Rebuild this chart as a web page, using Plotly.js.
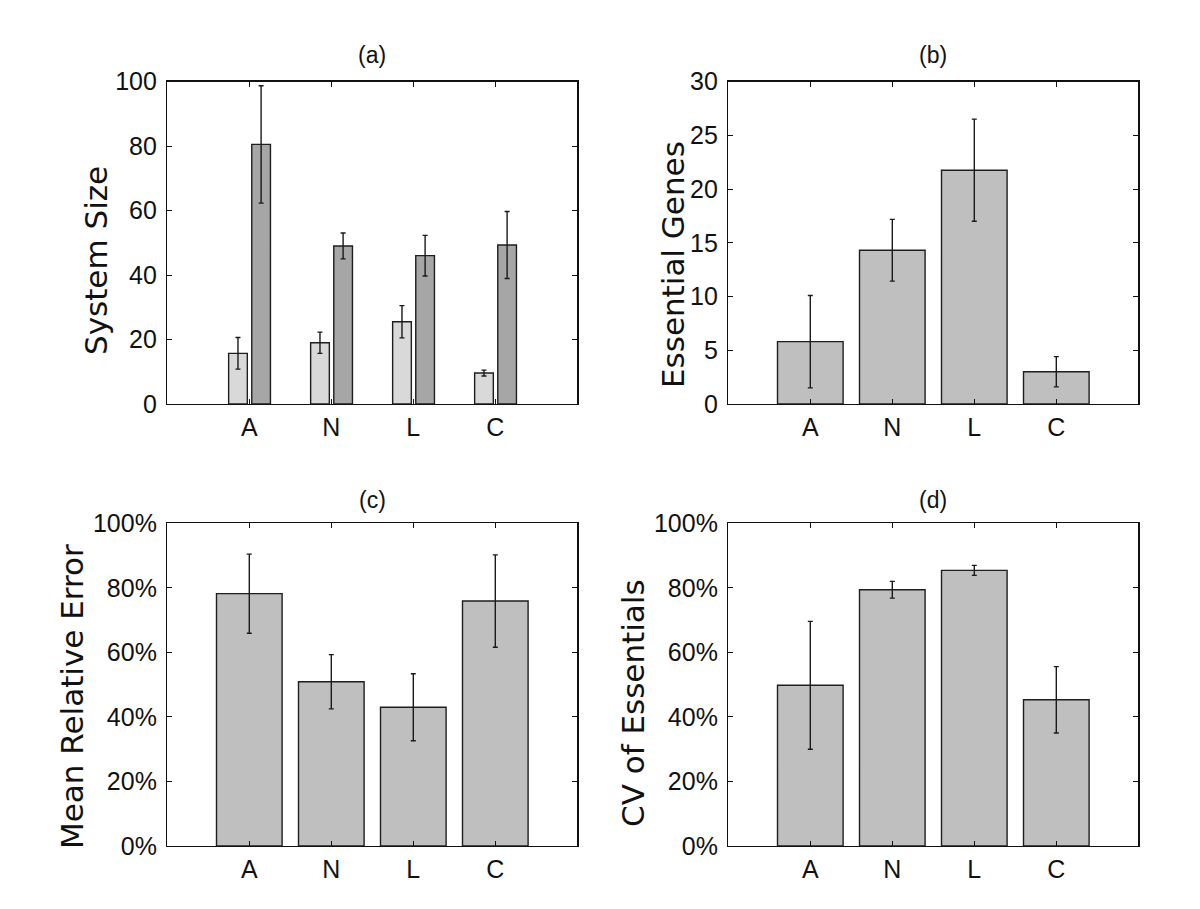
<!DOCTYPE html>
<html>
<head>
<meta charset="utf-8">
<script src="https://cdn.plot.ly/plotly-3.0.1.min.js"></script>
<style>html,body{margin:0;padding:0;background:#fff;}#chart{width:1200px;height:909px;}</style>
</head>
<body>
<div id="chart"></div>
<script>
// ---- data ----
const categories = ['A', 'N', 'L', 'C'];

// (a) System Size: two series
const sizeLight = [15.7, 19.0, 25.5, 9.6];
const sizeLightErr = [4.9, 3.3, 5.0, 0.9];
const sizeDark = [80.5, 49.0, 46.0, 49.3];
const sizeDarkErr = [18.2, 4.0, 6.3, 10.4];

// (b) Essential Genes
const essential = [5.8, 14.3, 21.75, 3.0];
const essentialErr = [4.3, 2.87, 4.75, 1.41];

// (c) Mean Relative Error (%)
const relError = [78.2, 50.9, 43.0, 75.9];
const relErrorErr = [12.25, 8.4, 10.4, 14.3];

// (d) CV of Essentials (%)
const cvEss = [49.8, 79.4, 85.4, 45.3];
const cvEssErr = [19.8, 2.6, 1.55, 10.3];

const panelTitles = ['(a)', '(b)', '(c)', '(d)'];
const yTitles = ['System Size', 'Essential Genes', 'Mean Relative Error', 'CV of Essentials'];

// ---- styles ----
const W = 1200, H = 909;
const edge = {color: '#1e1e1e', width: 1.4};
const errStyle = (arr) => ({type: 'data', array: arr, visible: true, color: '#1a1a1a', thickness: 1.4, width: 2.5});

function bar(y, err, xa, ya, color, width, offset) {
  const t = {
    type: 'bar', x: categories, y: y, xaxis: xa, yaxis: ya,
    marker: {color: color, line: edge},
    error_y: errStyle(err), width: width, showlegend: false, hoverinfo: 'skip'
  };
  if (offset !== undefined) t.offset = offset;
  return t;
}

const data = [
  bar(sizeLight, sizeLightErr, 'x', 'y', '#d9d9d9', 0.228, -0.252),
  bar(sizeDark, sizeDarkErr, 'x', 'y', '#a6a6a6', 0.228, 0.03),
  bar(essential, essentialErr, 'x2', 'y2', '#bfbfbf', 0.8),
  bar(relError, relErrorErr, 'x3', 'y3', '#bfbfbf', 0.8),
  bar(cvEss, cvEssErr, 'x4', 'y4', '#bfbfbf', 0.8)
];

const tickFont = {family: 'Liberation Sans, Arial, sans-serif', size: 25, color: '#111'};
const px = (v) => v / W;
const py = (v) => 1 - v / H;

// plot boxes in pixels [left, right, top, bottom]
const boxes = [
  [167.3, 577.3, 81.5, 404],
  [728.3, 1138.3, 81.5, 404],
  [167.3, 577.3, 523.3, 846],
  [728.3, 1138.3, 523.3, 846]
];

function xaxis(i) {
  const b = boxes[i];
  return {
    domain: [px(b[0]), px(b[1])], anchor: i === 0 ? 'y' : 'y' + (i + 1),
    type: 'category', categoryorder: 'array', categoryarray: categories,
    range: [-1, 4], showgrid: false, zeroline: false,
    showline: true, linecolor: '#111', linewidth: 1.4, mirror: 'ticks',
    ticks: 'inside', ticklen: 5, tickcolor: '#111', tickwidth: 1,
    tickfont: tickFont, ticklabelstandoff: 1, fixedrange: true
  };
}
function yaxis(i, range, dtick, suffix) {
  const b = boxes[i];
  return {
    domain: [py(b[3]), py(b[2])], anchor: i === 0 ? 'x' : 'x' + (i + 1),
    range: range, dtick: dtick, tick0: 0, ticksuffix: suffix || '',
    showgrid: false, zeroline: false,
    showline: true, linecolor: '#111', linewidth: 1.4, mirror: 'ticks',
    ticks: 'inside', ticklen: 5, tickcolor: '#111', tickwidth: 1,
    tickfont: tickFont, ticklabelstandoff: 4, fixedrange: true
  };
}

const annotations = [];
// panel titles
const titleY = [55, 55, 500, 500];
for (let i = 0; i < 4; i++) {
  const b = boxes[i];
  annotations.push({
    text: panelTitles[i], xref: 'paper', yref: 'paper',
    x: px((b[0] + b[1]) / 2), y: py(titleY[i]), xanchor: 'center', yanchor: 'middle',
    showarrow: false, font: {family: 'Liberation Sans, Arial, sans-serif', size: 23, color: '#111'}
  });
}
// y-axis titles (rotated)
const yTitlePos = [[96, 261], [673, 265], [72, 697], [633, 703]];
for (let i = 0; i < 4; i++) {
  annotations.push({
    text: yTitles[i], xref: 'paper', yref: 'paper',
    x: px(yTitlePos[i][0]), y: py(yTitlePos[i][1]), xanchor: 'center', yanchor: 'middle',
    textangle: -90, showarrow: false,
    font: {family: 'DejaVu Sans, sans-serif', size: 31, color: '#111'}
  });
}

const layout = {
  width: W, height: H, margin: {l: 0, r: 0, t: 0, b: 0},
  paper_bgcolor: '#fff', plot_bgcolor: '#fff',
  barmode: 'overlay', showlegend: false, hovermode: false,
  xaxis: xaxis(0), xaxis2: xaxis(1), xaxis3: xaxis(2), xaxis4: xaxis(3),
  yaxis: yaxis(0, [0, 100], 20),
  yaxis2: yaxis(1, [0, 30], 5),
  yaxis3: yaxis(2, [0, 100], 20, '%'),
  yaxis4: yaxis(3, [0, 100], 20, '%'),
  annotations: annotations
};

Plotly.newPlot('chart', data, layout, {displayModeBar: false, staticPlot: true});
</script>
</body>
</html>
